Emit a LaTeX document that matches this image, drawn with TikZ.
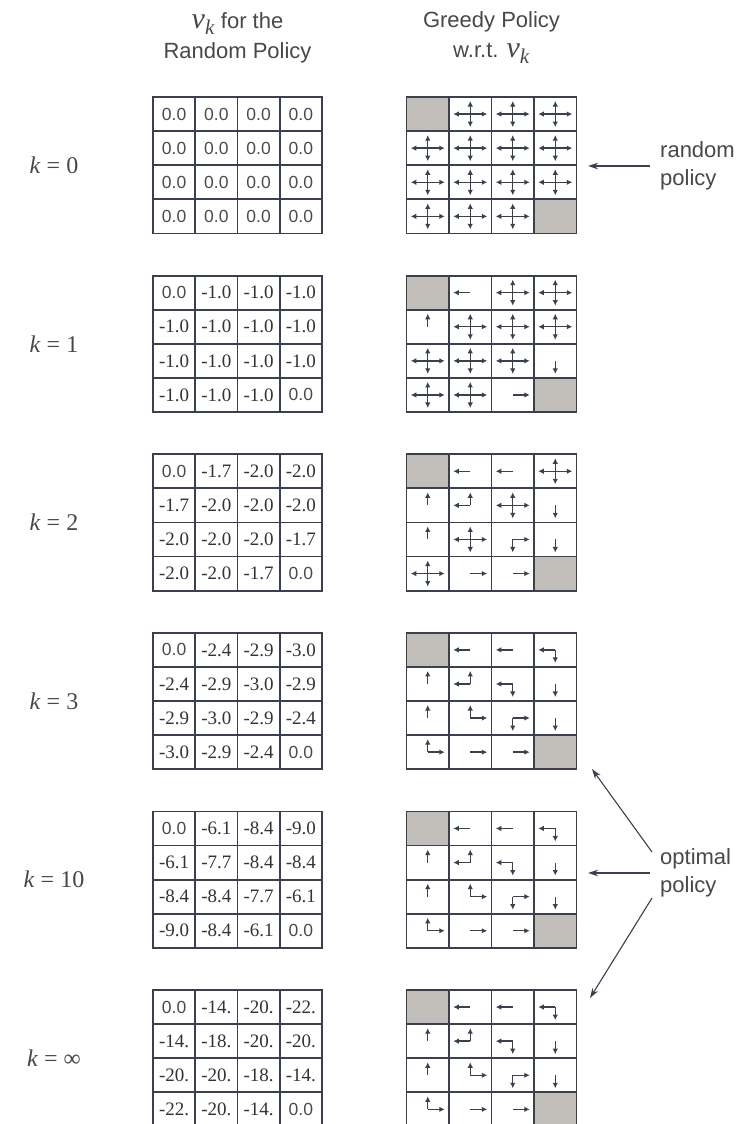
\documentclass[tikz,border=0pt]{standalone}
\usepackage{fontspec}
\usepackage{xstring}
\setmainfont{Liberation Serif}
\setsansfont{Liberation Sans}
\usetikzlibrary{arrows.meta}
\definecolor{gridline}{RGB}{58,64,78}
\definecolor{termgray}{RGB}{194,190,186}
\definecolor{labelgray}{RGB}{72,72,76}
\tikzset{
  valcell/.style={draw=gridline,line width=1.8pt,minimum width=42.25pt,minimum height=34.1pt,inner sep=0pt,
    font=\fontsize{19}{19}\selectfont,text=black!80},
  polcell/.style={draw=gridline,line width=1.8pt,minimum width=42.5pt,minimum height=34.1pt,inner sep=0pt},
  policyarrow/.style={gridline,line width=1.4pt,-{Latex[length=5.5pt,width=5.5pt]}},
  pointer/.style={gridline,line width=1.1pt,-{Stealth[length=10pt,width=6.5pt]}},
  headtext/.style={font=\sffamily\fontsize{22}{30}\selectfont,text=labelgray,align=center},
  sidetext/.style={font=\sffamily\fontsize{22}{28}\selectfont,text=labelgray,align=left,anchor=west,inner sep=0pt},
  klabel/.style={font=\fontsize{24}{24}\selectfont,text=labelgray}
}
\newcommand\zz{\textsf{\fontsize{17.5}{17.5}\selectfont\color{black!70}0.0}}
\newcommand\cellrays[2]{%
  \IfSubStr{#2}{L}{\draw[policyarrow] (#1.center) -- ++(-17,0);}{}%
  \IfSubStr{#2}{R}{\draw[policyarrow] (#1.center) -- ++(17,0);}{}%
  \IfSubStr{#2}{U}{\draw[policyarrow] (#1.center) -- ++(0,13);}{}%
  \IfSubStr{#2}{D}{\draw[policyarrow] (#1.center) -- ++(0,-13);}{}%
}

\begin{document}
\begin{tikzpicture}[x=1pt,y=1pt]
  \path[use as bounding box,fill=white] (0,0) rectangle (742,-1124);

  % column heads
  \node[headtext] (hval) at (237.5,-38) {{\rmfamily\fontsize{30}{30}\selectfont\itshape v\textsubscript{k}} for the\\Random Policy};
  \node[headtext] (hgrd) at (491.5,-38) {Greedy Policy\\w.r.t. {\rmfamily\fontsize{30}{30}\selectfont\itshape v\textsubscript{k}}};

  % iteration labels
  \foreach \kl [count=\ki from 0] in {0,1,2,3,10,∞}
    \node[klabel] (k-\ki) at (54,{-(165.2+178.6*\ki)}) {\textit{k} = \kl};

  % value tables
  \foreach \vals [count=\ki from 0] in {
    {{\zz,\zz,\zz,\zz},{\zz,\zz,\zz,\zz},{\zz,\zz,\zz,\zz},{\zz,\zz,\zz,\zz}},
    {{\zz,-1.0,-1.0,-1.0},{-1.0,-1.0,-1.0,-1.0},{-1.0,-1.0,-1.0,-1.0},{-1.0,-1.0,-1.0,\zz}},
    {{\zz,-1.7,-2.0,-2.0},{-1.7,-2.0,-2.0,-2.0},{-2.0,-2.0,-2.0,-1.7},{-2.0,-2.0,-1.7,\zz}},
    {{\zz,-2.4,-2.9,-3.0},{-2.4,-2.9,-3.0,-2.9},{-2.9,-3.0,-2.9,-2.4},{-3.0,-2.9,-2.4,\zz}},
    {{\zz,-6.1,-8.4,-9.0},{-6.1,-7.7,-8.4,-8.4},{-8.4,-8.4,-7.7,-6.1},{-9.0,-8.4,-6.1,\zz}},
    {{\zz,-14.,-20.,-22.},{-14.,-18.,-20.,-20.},{-20.,-20.,-18.,-14.},{-22.,-20.,-14.,\zz}}}{
    \foreach \vrow [count=\ri from 0] in \vals {
      \foreach \v [count=\ci from 0] in \vrow
        \node[valcell] (v-\ki-\ri-\ci) at ({174.1+42.25*\ci},{-(114.05+178.6*\ki+34.1*\ri)}) {\v};
    }
  }

  % greedy policies
  \foreach \pol [count=\ki from 0] in {
    {{T,LURD,LURD,LURD},{LURD,LURD,LURD,LURD},{LURD,LURD,LURD,LURD},{LURD,LURD,LURD,T}},
    {{T,L,LURD,LURD},{U,LURD,LURD,LURD},{LURD,LURD,LURD,D},{LURD,LURD,R,T}},
    {{T,L,L,LURD},{U,LU,LURD,D},{U,LURD,RD,D},{LURD,R,R,T}},
    {{T,L,L,LD},{U,LU,LD,D},{U,UR,RD,D},{UR,R,R,T}},
    {{T,L,L,LD},{U,LU,LD,D},{U,UR,RD,D},{UR,R,R,T}},
    {{T,L,L,LD},{U,LU,LD,D},{U,UR,RD,D},{UR,R,R,T}}}{
    \foreach \prow [count=\ri from 0] in \pol {
      \foreach \pc [count=\ci from 0] in \prow {
        \IfStrEq{\pc}{T}{\def\pfill{termgray}}{\def\pfill{white}}
        \node[polcell,fill=\pfill] (p-\ki-\ri-\ci) at ({427.75+42.5*\ci},{-(114.05+178.6*\ki+34.1*\ri)}) {};
        \cellrays{p-\ki-\ri-\ci}{\pc}
      }
    }
  }

  % annotations
  \node[sidetext] (rnd) at (660,-166) {random\\policy};
  \coordinate (rndtip) at (588,-166);
  \draw[pointer,shorten <=10pt] (rnd.west) -- (rndtip);

  \node[sidetext] (opt) at (660,-873) {optimal\\policy};
  \coordinate (opt1) at (592,-769);
  \coordinate (opt2) at (588,-873);
  \coordinate (opt3) at (590,-998);
  \draw[pointer] ([shift={(-8,21)}]opt.west) -- (opt1);
  \draw[pointer,shorten <=10pt] (opt.west) -- (opt2);
  \draw[pointer] ([shift={(-8,-25)}]opt.west) -- (opt3);
\end{tikzpicture}
\end{document}
